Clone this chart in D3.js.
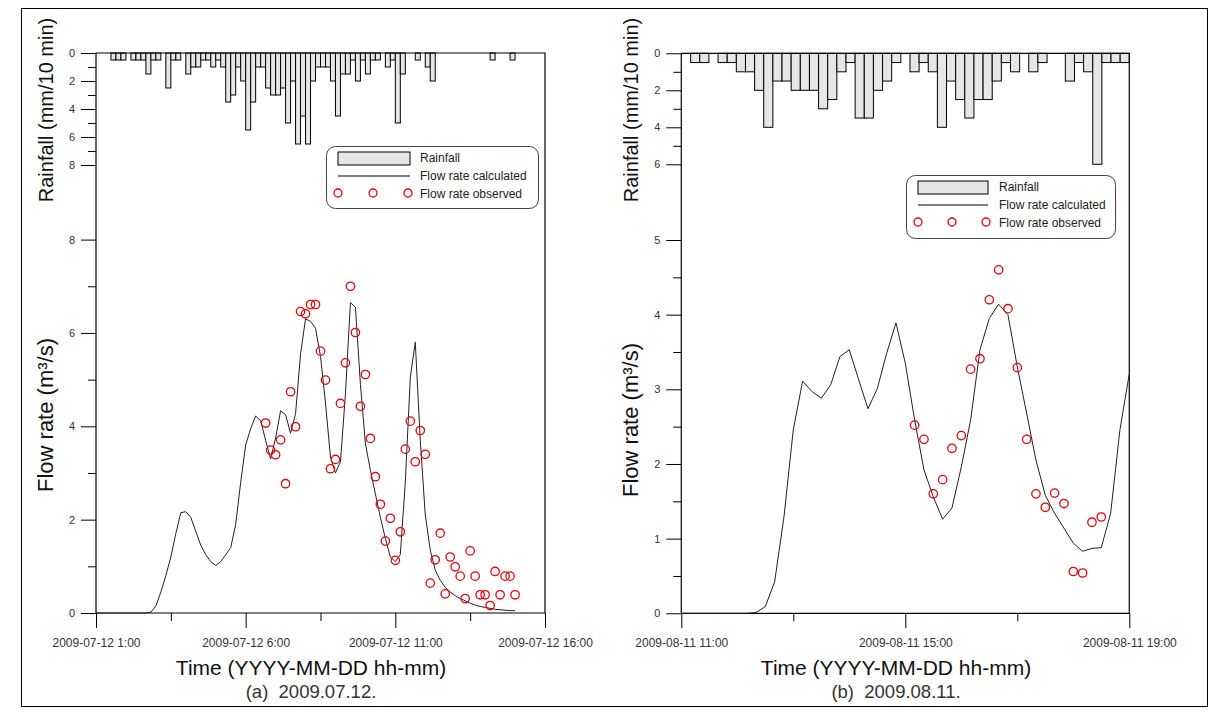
<!DOCTYPE html>
<html><head><meta charset="utf-8">
<script src="https://cdn.jsdelivr.net/npm/d3@7"></script>
<style>
body{margin:0;background:#fff}
svg{display:block}
text{font-family:"Liberation Sans",Arial,sans-serif}
</style></head>
<body><svg id="c" width="1212" height="717"></svg>
<script>
// ---------------- DATA ----------------
// (a) 2009.07.12
const xTicksA = ["2009-07-12 1:00","2009-07-12 6:00","2009-07-12 11:00","2009-07-12 16:00"];
const xMinorA = ["2009-07-12 3:30","2009-07-12 8:30","2009-07-12 13:30"];
const rainStartA = "2009-07-12 1:30", rainEndA = "2009-07-12 15:00"; // 10-min rainfall
const rainA = [0.5,0.5,0.5,0,0.5,0.5,0.5,1.5,0.5,0.5,
               0,2.5,0.5,0.5,0,1.5,1.0,1.0,0.5,0.5,
               1.0,0.5,1.0,3.5,3.0,1.0,2.0,5.5,3.5,1.0,
               1.0,2.5,3.0,3.0,2.5,5.0,2.0,6.5,4.5,6.5,
               2.0,1.0,1.0,1.0,2.0,4.5,1.5,1.5,0.5,2.0,
               0.5,1.5,0.5,0.5,0,1.0,0.5,5.0,1.5,0,
               0,0.5,0,1.0,2.0,0,0,0,0,0,
               0,0,0,0,0,0,0.5,0,0,0,0.5];
const calcStartA = "2009-07-12 1:00"; // every 10 min
const calcA = [0,0,0,0,0,0,0,0,0,0,0,
               0.02,0.15,0.45,0.8,1.2,1.7,2.15,2.17,2.05,1.75,
               1.45,1.25,1.1,1.02,1.1,1.25,1.4,1.9,2.8,3.6,
               3.95,4.22,4.12,3.7,3.3,3.75,4.33,4.25,3.85,4.27,
               5.55,6.3,6.25,6.1,5.5,4.5,3.34,3.0,3.24,4.7,
               6.65,6.55,4.9,3.63,3.06,2.55,2.05,1.6,1.2,1.1,
               1.25,2.8,5.05,5.8,3.7,2.1,1.35,0.92,0.7,0.55,
               0.45,0.37,0.31,0.26,0.21,0.17,0.14,0.12,0.1,0.08,
               0.07,0.06,0.05,0.05];
const obsStartA = "2009-07-12 6:40"; // every 10 min
const obsA = [4.07,3.49,3.39,3.71,2.77,4.74,3.99,6.46,6.41,6.61,
              6.61,5.61,4.99,3.09,3.29,4.49,5.36,7.0,6.01,4.43,
              5.11,3.74,2.92,2.33,1.54,2.03,1.13,1.74,3.51,4.11,
              3.24,3.91,3.4,0.64,1.14,1.71,0.41,1.2,0.99,0.79,
              0.31,1.33,0.79,0.39,0.39,0.16,0.89,0.39,0.79,0.79,0.39];
const rainTicksA = [0,2,4,6,8], rainMinorA = [1,3,5,7];
const flowTicksA = [0,2,4,6,8], flowMinorA = [1,3,5,7];

// (b) 2009.08.11
const xTicksB = ["2009-08-11 11:00","2009-08-11 15:00","2009-08-11 19:00"];
const xMinorB = ["2009-08-11 13:00","2009-08-11 17:00"];
const rainStartB = "2009-08-11 11:10", rainEndB = "2009-08-11 19:00";
const rainB = [0.5,0.5,0,0.5,0.5,1.0,1.0,2.0,4.0,1.5,
               1.5,2.0,2.0,2.0,3.0,2.5,1.0,0.5,3.5,3.5,
               2.0,1.5,0.5,0,1.0,0.5,1.0,4.0,1.5,2.5,
               3.5,2.5,2.5,1.5,0.5,1.0,0,1.0,0.5,0,
               0,1.5,0.5,1.0,6.0,0.5,0.5,0.5];
const calcStartB = "2009-08-11 11:00";
const calcB = [0,0,0,0,0,0,0,0,
               0.01,0.09,0.42,1.29,2.46,3.11,2.97,2.88,3.06,3.44,
               3.53,3.13,2.74,3.01,3.48,3.89,3.35,2.59,1.92,1.56,
               1.26,1.41,1.96,2.59,3.53,3.95,4.14,4.0,3.30,2.68,
               2.05,1.58,1.34,1.14,0.94,0.83,0.87,0.88,1.34,2.46,3.21];
const obsStartB = "2009-08-11 15:10";
const obsB = [2.52,2.33,1.60,1.79,2.21,2.38,3.27,3.41,4.20,4.60,
              4.08,3.29,2.33,1.60,1.42,1.61,1.47,0.56,0.54,1.22,1.29];
const rainTicksB = [0,2,4,6], rainMinorB = [1,3,5];
const flowTicksB = [0,1,2,3,4,5], flowMinorB = [0.5,1.5,2.5,3.5,4.5];

const legendLabels = ["Rainfall","Flow rate calculated","Flow rate observed"];
const rainTitle = "Rainfall (mm/10 min)";
const flowTitle = "Flow rate (m\u00B3/s)";
const xTitle = "Time (YYYY-MM-DD hh-mm)";
const captions = ["(a)  2009.07.12.", "(b)  2009.08.11."];

// ---------------- DRAW ----------------
const parse = d3.timeParse("%Y-%m-%d %H:%M");
const svg = d3.select("#c");

svg.append("rect").attr("x",21.5).attr("y",8.5).attr("width",1186).attr("height",698)
  .attr("fill","none").attr("stroke","#000").attr("stroke-width",1);

function panel(c) {
  const g = svg.append("g");
  const x = d3.scaleTime().domain([parse(c.xTicks[0]), parse(c.xTicks[c.xTicks.length-1])]).range([c.x0, c.x1]);
  const yR = d3.scaleLinear().domain([0, c.rainMax]).range([c.top, c.top + c.rainPx]);
  const yF = d3.scaleLinear().domain([0, c.flowMax]).range([c.bottom, c.flowTop]);

  // rainfall bars
  const band = d3.scaleBand().domain(d3.range(c.rain.length))
    .range([x(parse(c.rainStart)), x(parse(c.rainEnd))]).paddingInner(0).paddingOuter(0);
  g.append("g").selectAll("rect")
    .data(c.rain.map((v,i)=>({v,i})).filter(d=>d.v>0))
    .join("rect")
    .attr("x", d=>band(d.i)).attr("y", yR(0))
    .attr("width", band.bandwidth()).attr("height", d=>yR(d.v)-yR(0))
    .attr("fill","#e6e6e6").attr("stroke","#000").attr("stroke-width",1);

  // frame
  g.append("path").attr("d", `M${c.x0},${c.bottom}V${c.top}H${c.x1}V${c.bottom}H${c.x0}`)
    .attr("fill","none").attr("stroke","#000").attr("stroke-width",1.2);

  // calculated line
  const cs = parse(c.calcStart);
  g.append("path").datum(c.calc)
    .attr("d", d3.line().x((d,i)=>x(d3.timeMinute.offset(cs, 10*i))).y(d=>yF(d)))
    .attr("fill","none").attr("stroke","#222").attr("stroke-width",1);

  // observed
  const os = parse(c.obsStart);
  g.append("g").selectAll("circle").data(c.obs).join("circle")
    .attr("cx",(d,i)=>x(d3.timeMinute.offset(os, 10*i))).attr("cy", d=>yF(d)).attr("r",4.2)
    .attr("fill","none").attr("stroke","#e8000b").attr("stroke-width",1.3);

  // axes
  const styleAxis = (fs) => sel => {
    sel.select(".domain").remove();
    sel.selectAll("line").attr("stroke","#000");
    sel.selectAll("text").attr("fill","#333").style("font-size",fs);
  };
  g.append("g").attr("transform",`translate(${c.x0},0)`)
    .call(d3.axisLeft(yR).tickValues(c.rainTicks).tickSize(15).tickPadding(6).tickFormat(d3.format("d"))).call(styleAxis("11px"));
  g.append("g").attr("transform",`translate(${c.x0},0)`)
    .call(d3.axisLeft(yR).tickValues(c.rainMinor).tickSize(8).tickFormat("")).call(styleAxis("11px"));
  g.append("g").attr("transform",`translate(${c.x0},0)`)
    .call(d3.axisLeft(yF).tickValues(c.flowTicks).tickSize(15).tickPadding(6).tickFormat(d3.format("d"))).call(styleAxis("11px"));
  g.append("g").attr("transform",`translate(${c.x0},0)`)
    .call(d3.axisLeft(yF).tickValues(c.flowMinor).tickSize(8).tickFormat("")).call(styleAxis("11px"));
  g.append("g").attr("transform",`translate(0,${c.bottom})`)
    .call(d3.axisBottom(x).tickValues(c.xTicks.map(parse)).tickSize(15).tickPadding(10)
      .tickFormat((d,i)=>c.xTicks[i])).call(styleAxis("12px"));
  g.append("g").attr("transform",`translate(0,${c.bottom})`)
    .call(d3.axisBottom(x).tickValues(c.xMinor.map(parse)).tickSize(8).tickFormat("")).call(styleAxis("12px"));

  // titles
  g.append("text").attr("transform",`translate(${c.ytx},${c.rainTy}) rotate(-90)`)
    .attr("text-anchor","middle").style("font-size","20px").attr("fill","#111").text(rainTitle);
  g.append("text").attr("transform",`translate(${c.ytx},${c.flowTy}) rotate(-90)`)
    .attr("text-anchor","middle").style("font-size","22px").attr("fill","#111").text(flowTitle);
  g.append("text").attr("x",c.tcx).attr("y",675).attr("text-anchor","middle")
    .style("font-size","21px").attr("fill","#111").text(xTitle);
  g.append("text").attr("x",c.tcx).attr("y",698).attr("text-anchor","middle")
    .style("font-size","18.5px").style("white-space","pre").attr("fill","#333").text(c.caption);

  // legend
  const L = c.legend;
  const lg = g.append("g").attr("transform",`translate(${L.x},${L.y})`);
  lg.append("rect").attr("x",0.5).attr("y",0.5).attr("width",L.w).attr("height",L.h).attr("rx",9)
    .attr("fill","#fff").attr("stroke","#444").attr("stroke-width",1);
  lg.append("rect").attr("x",12).attr("y",6).attr("width",L.sw).attr("height",13)
    .attr("fill","#e6e6e6").attr("stroke","#000");
  lg.append("line").attr("x1",12).attr("x2",12+L.sw).attr("y1",30).attr("y2",30)
    .attr("stroke","#000").attr("stroke-width",1);
  lg.selectAll("circle.o").data([0,0.5,1]).join("circle")
    .attr("cx",f=>12+f*(L.sw-2)).attr("cy",47).attr("r",4)
    .attr("fill","none").attr("stroke","#e8000b").attr("stroke-width",1.3);
  lg.selectAll("text").data(legendLabels).join("text")
    .attr("x",L.tx).attr("y",(d,i)=>16+i*18).style("font-size","12px").attr("fill","#222").text(d=>d);
}

panel({xTicks:xTicksA, xMinor:xMinorA, x0:96, x1:545, top:53, bottom:613, rainMax:8, rainPx:112,
  flowMax:8, flowTop:239.6, rain:rainA, rainStart:rainStartA, rainEnd:rainEndA,
  calc:calcA, calcStart:calcStartA, obs:obsA, obsStart:obsStartA,
  rainTicks:rainTicksA, rainMinor:rainMinorA, flowTicks:flowTicksA, flowMinor:flowMinorA,
  ytx:53, rainTy:110, flowTy:415, tcx:311, caption:captions[0],
  legend:{x:326, y:146, w:212, h:62, sw:72, tx:94}});

panel({xTicks:xTicksB, xMinor:xMinorB, x0:681.3, x1:1129.3, top:53.3, bottom:613.3, rainMax:6, rainPx:111,
  flowMax:5, flowTop:240, rain:rainB, rainStart:rainStartB, rainEnd:rainEndB,
  calc:calcB, calcStart:calcStartB, obs:obsB, obsStart:obsStartB,
  rainTicks:rainTicksB, rainMinor:rainMinorB, flowTicks:flowTicksB, flowMinor:flowMinorB,
  ytx:638, rainTy:110, flowTy:420, tcx:896, caption:captions[1],
  legend:{x:906, y:175, w:209, h:63, sw:70, tx:93}});
</script></body></html>
